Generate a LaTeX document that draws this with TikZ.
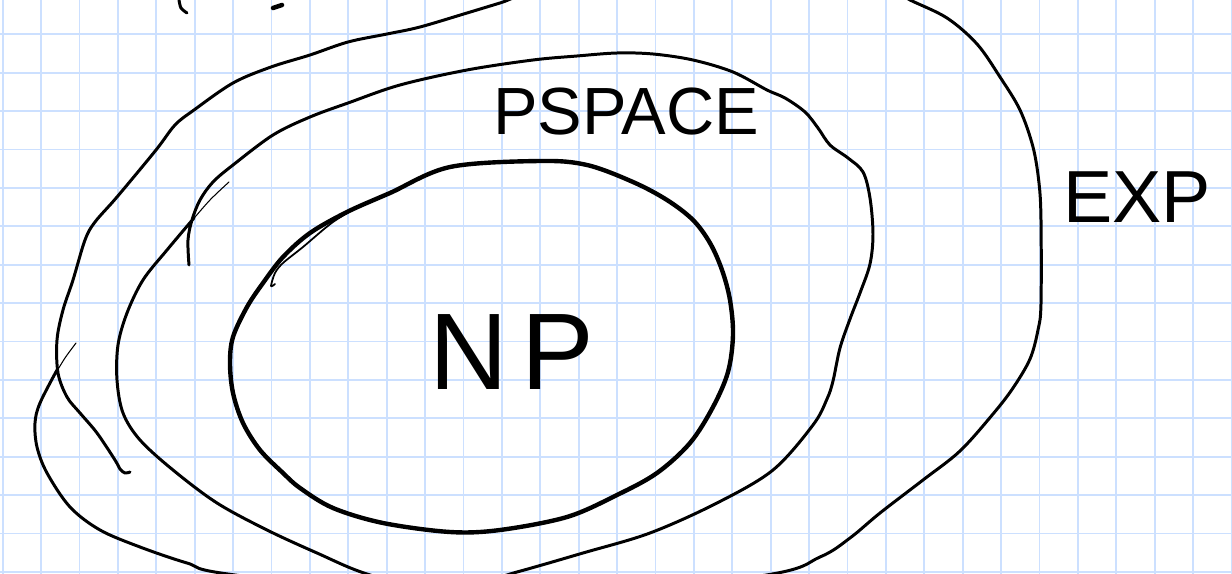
\documentclass[tikz,border=0pt]{standalone}
\usepackage{fontspec}
\setmainfont{Liberation Sans}
\usepackage{tikz}
\definecolor{gridblue}{RGB}{204,224,255}
\tikzset{
  gridline/.style={draw=gridblue,line width=1.1pt},
  pen/.style={draw=black,line width=1.7pt,line cap=round,line join=round},
  heavypen/.style={pen,line width=2.5pt},
  thinpen/.style={pen,line width=0.6pt},
  hand/.style={font=\fontsize{38}{38}\selectfont,inner sep=0pt,text=black},
}

\begin{document}
\begin{tikzpicture}[x=0.02cm,y=-0.02cm]
  \useasboundingbox (0,0) rectangle (1232,574);
  \fill[white] (0,0) rectangle (1232,574);
  \clip (0,0) rectangle (1232,574);
  % squared paper
  \foreach \k in {0,...,32}{\draw[gridline] ({2.7+38.4*\k},0) -- ({2.7+38.4*\k},574);}
  \foreach \k in {0,...,14}{\draw[gridline] (0,{34.3+38.4*\k}) -- (1232,{34.3+38.4*\k});}
  % EXP
  \draw[pen] plot[smooth,tension=0.55] coordinates {(130,472) (125,473) (120,469) (115,460) (97,433) (80,413) (67,397) (58,373) (57,340) (63,310) (73,280) (85,240) (95,222) (117,197) (156,150) (175,125) (194,110) (233,83) (271,67) (310,55) (348,42) (387,34) (420,27) (467,13) (500,3) (540,-9) (715,-45) (880,-15) (910,0) (947,18) (977,44) (1000,77) (1020,110) (1033,147) (1039,183) (1041,220) (1041,304) (1038,330) (1030,359) (1013,388) (993,414) (960,451) (923,480) (880,513) (850,538) (820,557) (760,576) (500,605) (235,575) (187,563) (140,547) (100,530) (70,507) (47,473) (37,447) (35,423) (40,403) (57,370)};
  \draw[thinpen] plot[smooth] coordinates {(76,343) (65,358) (54,376)};
  % PSPACE
  \draw[pen] plot[smooth,tension=0.55] coordinates {(194,218) (167,250) (143,280) (127,313) (118,345) (117,380) (123,413) (140,440) (173,470) (217,503) (267,530) (317,553) (367,574) (440,592) (517,572) (583,553) (650,533) (717,503) (773,470) (813,425) (827,399) (833,381) (840,348) (850,319) (860,293) (870,264) (873,234) (870,198) (863,172) (848,158) (830,145) (818,128) (805,112) (785,98) (767,90) (733,72) (693,60) (653,54) (617,53) (577,56) (533,60) (467,70) (400,85) (348,103) (310,117) (273,135) (233,165) (213,182) (200,200) (192,220) (188,240) (189,265)};
  \draw[thinpen] plot[smooth] coordinates {(229,182) (210,200) (190,223) (176,240)};
  % NP
  \draw[heavypen] plot[smooth cycle,tension=0.55] coordinates {(390,193) (450,167) (540,161) (587,165) (633,182) (667,200) (693,220) (710,243) (722,270) (730,300) (733,335) (728,372) (713,407) (690,443) (657,473) (617,495) (567,517) (500,530) (450,532) (383,523) (333,508) (300,488) (283,473) (260,450) (243,423) (233,393) (230,363) (233,337) (247,307) (263,283) (283,257) (310,233) (347,212)};
  \draw[thinpen,line width=1pt] plot[smooth] coordinates {(363,204) (333,222) (303,247) (283,263) (275,273) (271,286) (275,284)};
  % cut-off strokes at the top edge
  \draw[pen] plot[smooth] coordinates {(179,0) (181,8) (187,13)};
  \draw[pen,line width=2.6pt] (273,8) -- (282,5);
  % labels
  \node[hand] (pspace) at (626,112) {PSPACE};
  \node[hand,font=\fontsize{42}{42}\selectfont] (exp) at (1137,197) {EXP};
  \node[hand,font=\fontsize{62}{62}\selectfont] (np) at (512,352) {N\hspace{0.12em}P};
\end{tikzpicture}
\end{document}
